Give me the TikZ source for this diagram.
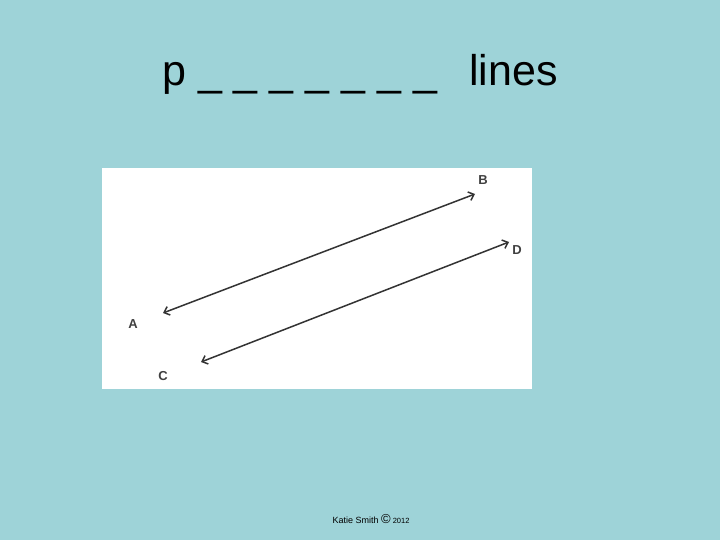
\documentclass[tikz,border=0pt]{standalone}
\usepackage{fontspec}
\setmainfont{Liberation Sans}
\usetikzlibrary{arrows.meta}
\definecolor{bgteal}{HTML}{9ED3D8}
\tikzset{
  lbl/.style={font=\fontsize{13}{14}\selectfont\bfseries, text=black!75, inner sep=0pt},
  ray/.style={line width=1.5pt, black!80, {Straight Barb[length=5pt,width=9pt]}-{Straight Barb[length=5pt,width=9pt]}},
  ttl/.style={inner sep=0pt, anchor=base west, font=\fontsize{43}{46}\selectfont}
}
\begin{document}
\begin{tikzpicture}[x=1pt,y=-1pt]
  \fill[bgteal] (0,0) rectangle (720,540);
  \useasboundingbox (0,0) rectangle (720,540);
  \fill[white] (102,168) rectangle (532,389);
  \node[ttl] (title) at (162,86) {p \_ \_ \_ \_ \_ \_ \_};
  \node[ttl] (title2) at (469,86) {lines};
  \coordinate (a) at (163,313);
  \coordinate (b) at (475,194);
  \coordinate (c) at (201,362);
  \coordinate (d) at (509,242);
  \draw[ray] (a) -- (b);
  \draw[ray] (c) -- (d);
  \node[lbl] (la) at (133,324) {A};
  \node[lbl] (lb) at (483,180) {B};
  \node[lbl] (lc) at (163,376) {C};
  \node[lbl] (ld) at (517,250) {D};
  \node[inner sep=0pt] (foot) at (371,519) {\fontsize{9}{10}\selectfont Katie Smith \fontsize{13}{13}\selectfont\textcopyright\fontsize{7.5}{10}\selectfont\ 2012};
\end{tikzpicture}
\end{document}
